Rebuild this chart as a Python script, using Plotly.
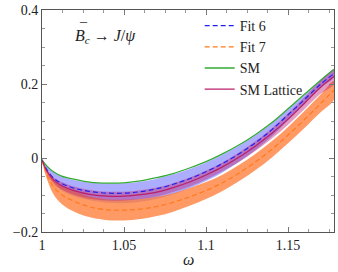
import plotly.graph_objects as go

# omega grid and curves
omega = [1.0, 1.003, 1.007, 1.012, 1.02, 1.03, 1.04, 1.05, 1.06, 1.07, 1.08,
         1.09, 1.10, 1.11, 1.12, 1.13, 1.14, 1.15, 1.16, 1.17, 1.178]

sm = [-0.005, -0.022, -0.037, -0.049, -0.058, -0.066, -0.068, -0.067, -0.062, -0.053, -0.042,
      -0.027, -0.010, 0.011, 0.035, 0.063, 0.095, 0.133, 0.172, 0.211, 0.240]

fit6 = [-0.005, -0.032, -0.054, -0.069, -0.082, -0.091, -0.095, -0.095, -0.091, -0.083, -0.071,
        -0.056, -0.037, -0.015, 0.011, 0.041, 0.076, 0.117, 0.158, 0.200, 0.228]
fit6_err = [0.0, 0.010, 0.016, 0.019, 0.022, 0.024, 0.026, 0.027, 0.027, 0.027, 0.027,
            0.026, 0.025, 0.024, 0.022, 0.020, 0.018, 0.015, 0.012, 0.010, 0.010]

fit7 = [-0.005, -0.045, -0.078, -0.099, -0.118, -0.133, -0.140, -0.141, -0.138, -0.131, -0.120,
        -0.105, -0.088, -0.067, -0.041, -0.011, 0.023, 0.062, 0.104, 0.148, 0.183]
fit7_err = [0.0, 0.012, 0.020, 0.025, 0.028, 0.028, 0.028, 0.028, 0.027, 0.026, 0.025,
            0.024, 0.023, 0.022, 0.022, 0.022, 0.022, 0.022, 0.023, 0.024, 0.025]

lattice = [-0.005, -0.036, -0.059, -0.075, -0.089, -0.099, -0.103, -0.103, -0.099, -0.092, -0.080,
           -0.065, -0.046, -0.024, 0.002, 0.032, 0.066, 0.105, 0.148, 0.192, 0.220]
lattice_err = [0.0, 0.004, 0.007, 0.010, 0.011, 0.012, 0.012, 0.012, 0.012, 0.012, 0.012,
               0.012, 0.012, 0.012, 0.013, 0.013, 0.014, 0.015, 0.016, 0.018, 0.019]

SERIF = "Liberation Serif, DejaVu Serif, serif"


def band(center, err, fill):
    up = [c + e for c, e in zip(center, err)]
    lo = [c - e for c, e in zip(center, err)]
    return go.Scatter(x=omega + omega[::-1], y=up + lo[::-1], fill="toself", fillcolor=fill,
                      line=dict(width=0, shape="spline"), mode="lines",
                      showlegend=False, hoverinfo="skip")


fig = go.Figure()
fig.add_trace(band(fit6, fit6_err, "rgba(60,60,255,0.42)"))
fig.add_trace(band(fit7, fit7_err, "rgba(255,120,50,0.75)"))
fig.add_trace(band(lattice, lattice_err, "rgba(190,40,120,0.45)"))

fig.add_trace(go.Scatter(x=omega, y=fit6, mode="lines", name="Fit 6",
                         line=dict(color="#2222ee", width=1.2, dash="5px,3px", shape="spline")))
fig.add_trace(go.Scatter(x=omega, y=fit7, mode="lines", name="Fit 7",
                         line=dict(color="#ff7a1a", width=1.2, dash="5px,3px", shape="spline")))
fig.add_trace(go.Scatter(x=omega, y=sm, mode="lines", name="SM",
                         line=dict(color="#33aa33", width=1.3, shape="spline")))
fig.add_trace(go.Scatter(x=omega, y=lattice, mode="lines", name="SM Lattice",
                         line=dict(color="#b8206a", width=1.2, shape="spline")))

axis_common = dict(showgrid=False, zeroline=False, showline=True, linecolor="#555",
                   linewidth=1, mirror="ticks", ticks="inside", ticklen=5, tickcolor="#777",
                   tickfont=dict(family=SERIF, size=14, color="#222"))

fig.update_xaxes(range=[1, 1.178], tickvals=[1, 1.05, 1.1, 1.15], ticktext=["1", "1.05", "1.1", "1.15"],
                 minor=dict(dtick=0.0125, tick0=1, ticks="inside", ticklen=3, tickcolor="#999"),
                 **axis_common)
fig.update_yaxes(range=[-0.2, 0.4], tickvals=[-0.2, 0, 0.2, 0.4], ticktext=["−0.2", "0", "0.2", "0.4"],
                 minor=dict(dtick=0.05, tick0=0, ticks="inside", ticklen=3, tickcolor="#999"),
                 **axis_common)

# process label, with a separate macron over the B
fig.add_annotation(x=0.105, y=0.88, xref="paper", yref="paper", xanchor="left", yanchor="middle",
                   text="<i>B</i><sub><i>c</i></sub> → <i>J</i>/<i>ψ</i>", showarrow=False,
                   font=dict(family=SERIF, size=16, color="#222"))
fig.add_annotation(x=0.105, y=0.88, xref="paper", yref="paper", xanchor="left", yanchor="middle",
                   xshift=4, yshift=8, text="¯", showarrow=False,
                   font=dict(family=SERIF, size=14, color="#222"))
fig.add_annotation(x=0.5, y=0, xref="paper", yref="paper", xanchor="center", yanchor="middle",
                   yshift=-27, text="<i>ω</i>", showarrow=False,
                   font=dict(family=SERIF, size=16, color="#222"))

fig.update_layout(
    width=338, height=272,
    margin=dict(l=42, r=4, t=10, b=40),
    paper_bgcolor="white", plot_bgcolor="white",
    font=dict(family=SERIF, color="#222"),
    legend=dict(x=0.54, y=1.0, xanchor="left", yanchor="top", bgcolor="rgba(0,0,0,0)",
                font=dict(family=SERIF, size=14), tracegroupgap=0),
)

fig.write_html("out.html", config={"displayModeBar": False},
               post_script="document.body.style.margin='0px';")
